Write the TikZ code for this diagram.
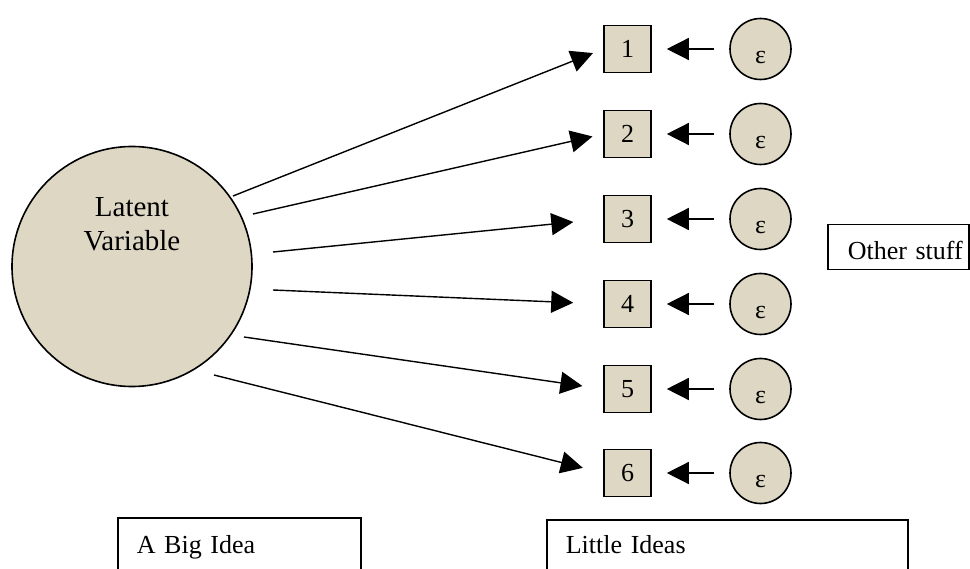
\documentclass[tikz,border=0pt]{standalone}
\usepackage{fontspec}
\setmainfont{Liberation Serif}
\usetikzlibrary{arrows.meta}
\definecolor{latentfill}{RGB}{221,215,196}

\begin{document}
\begin{tikzpicture}[x=1pt,y=-1pt]
\tikzset{grandnoeud/.style={draw, circle, fill=latentfill, line width=1.6pt, minimum size=240pt, inner sep=0pt},
  itemnoeud/.style={draw, rectangle, fill=latentfill, line width=1.6pt, minimum size=47pt, inner sep=0pt},
  erreurnoeud/.style={draw, circle, fill=latentfill, line width=1.6pt, minimum size=61pt, inner sep=0pt, text height=29pt, text depth=0pt},
  legende/.style={draw, line width=1.5pt, anchor=north west, align=left, inner xsep=19pt, inner ysep=0pt, text height=36pt, text depth=30pt},
  fleche/.style={line width=1.4pt, -{Triangle[length=22pt, width=22pt]}},
  every node/.style={font=\fontsize{26}{34}\selectfont}}
\useasboundingbox (0,0) rectangle (970,569);
\clip (0,0) rectangle (970,569);
\node[grandnoeud] (LV) at (132,266.5) {};
\node[align=center, font=\fontsize{29}{34}\selectfont] (LVtexte) at (132,224.5) {Latent\\Variable};
\node[itemnoeud] (I1) at (627.5,49) {1};
\node[itemnoeud] (I2) at (627.5,134) {2};
\node[itemnoeud] (I3) at (627.5,219) {3};
\node[itemnoeud] (I4) at (627.5,304) {4};
\node[itemnoeud] (I5) at (627.5,389) {5};
\node[itemnoeud] (I6) at (627.5,473) {6};
\node[erreurnoeud] (E1) at (760.5,49) {ε};
\node[erreurnoeud] (E2) at (760.5,134) {ε};
\node[erreurnoeud] (E3) at (760.5,219) {ε};
\node[erreurnoeud] (E4) at (760.5,304) {ε};
\node[erreurnoeud] (E5) at (760.5,389) {ε};
\node[erreurnoeud] (E6) at (760.5,473) {ε};
\coordinate (D1) at (233,196);
\coordinate (D2) at (253,214);
\coordinate (D3) at (273,252);
\coordinate (D4) at (273,290);
\coordinate (D5) at (244,337);
\coordinate (D6) at (214,375);
\draw[fleche, shorten >=11pt] (D1) -- (I1.west);
\draw[fleche, shorten >=11pt] (D2) -- (I2.west);
\draw[fleche, shorten >=30pt] (D3) -- (I3.west);
\draw[fleche, shorten >=30pt] (D4) -- (I4.west);
\draw[fleche, shorten >=21pt] (D5) -- (I5.west);
\draw[fleche, shorten >=21pt] (D6) -- (I6.west);
\draw[fleche, shorten <=15pt, shorten >=15pt] (E1) -- (I1);
\draw[fleche, shorten <=15pt, shorten >=15pt] (E2) -- (I2);
\draw[fleche, shorten <=15pt, shorten >=15pt] (E3) -- (I3);
\draw[fleche, shorten <=15pt, shorten >=15pt] (E4) -- (I4);
\draw[fleche, shorten <=15pt, shorten >=15pt] (E5) -- (I5);
\draw[fleche, shorten <=15pt, shorten >=15pt] (E6) -- (I6);
\node[legende, text width=205pt] (grande) at (117,517) {A Big Idea};
\node[legende, text width=323pt, text height=34pt] (petites) at (546,519) {Little Ideas};
\node[legende, text width=101pt, inner xsep=20pt, text height=35pt, text depth=10pt] (autre) at (827,224) {\mbox{Other stuff}};
\end{tikzpicture}
\end{document}
